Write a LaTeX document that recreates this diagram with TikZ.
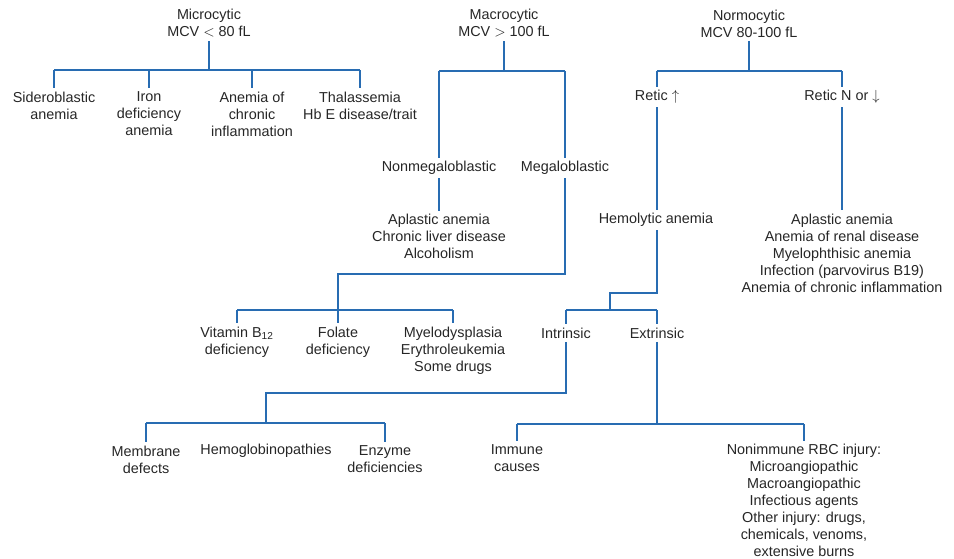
\documentclass[tikz,border=0pt]{standalone}
\usepackage{fontspec}
\setmainfont{Liberation Sans}
\usepackage{tikz}
\definecolor{linkblue}{RGB}{40,108,178}

\begin{document}
\begin{tikzpicture}[x=0.75pt, y=-0.75pt,
  txt/.style={align=center, inner sep=2.5pt, text=black!85,
    font=\fontsize{10.8}{12.75}\selectfont},
  link/.style={draw=linkblue, line width=1.3pt}]
\useasboundingbox (0,0) rectangle (954,558);

% Microcytic branch
\node[txt] (micro) at (209, 23.5) {Microcytic\\MCV $<$ 80 fL};
\node[txt] (sidero) at (54, 105.5) {Sideroblastic\\anemia};
\node[txt] (iron) at (149, 114) {Iron\\deficiency\\anemia};
\node[txt] (acd) at (252, 114) {Anemia of\\chronic\\inflammation};
\node[txt] (thal) at (360, 105.5) {Thalassemia\\Hb E disease/trait};

% Macrocytic branch
\node[txt] (macro) at (504, 23.5) {Macrocytic\\MCV $>$ 100 fL};
\node[txt] (nonmeg) at (439, 168) {Nonmegaloblastic};
\node[txt] (meg) at (565, 168) {Megaloblastic};
\node[txt] (aplas) at (439, 236.5) {Aplastic anemia\\Chronic liver disease\\Alcoholism};
\node[txt] (btwelve) at (237, 342) {Vitamin B\textsubscript{12}\\deficiency};
\node[txt] (folate) at (338, 342) {Folate\\deficiency};
\node[txt] (myelo) at (453, 350.5) {Myelodysplasia\\Erythroleukemia\\Some drugs};

% Normocytic branch
\node[txt] (normo) at (749, 23.5) {Normocytic\\MCV 80-100 fL};
\node[txt] (retup) at (657, 97) {Retic $\uparrow$};
\node[txt] (retdown) at (842, 97) {Retic N or $\downarrow$};
\node[txt] (hemo) at (656, 220) {Hemolytic anemia};
\node[txt] (hypo) at (842, 253) {Aplastic anemia\\Anemia of renal disease\\Myelophthisic anemia\\Infection (parvovirus B19)\\Anemia of chronic inflammation};
\node[txt] (intr) at (566, 333) {Intrinsic};
\node[txt] (extr) at (657, 333) {Extrinsic};
\node[txt] (memb) at (146, 459.5) {Membrane\\defects};
\node[txt] (hemog) at (266, 451) {Hemoglobinopathies};
\node[txt] (enzyme) at (385, 459.5) {Enzyme\\deficiencies};
\node[txt] (immune) at (517, 458.5) {Immune\\causes};
\node[txt] (nonimm) at (804, 500.5) {Nonimmune RBC injury:\\Microangiopathic\\Macroangiopathic\\Infectious agents\\Other injury: drugs,\\chemicals, venoms,\\extensive burns};

% Junctions
\coordinate (microbar) at (209, 70);
\coordinate (macrobar) at (504, 71);
\coordinate (megturn) at (338, 274);
\coordinate (megbar) at (338, 310);
\coordinate (normobar) at (749, 71);
\coordinate (hemoturn) at (610, 293);
\coordinate (hemobar) at (610, 310);
\coordinate (intrturn) at (266, 393);
\coordinate (intrbar) at (266, 423);
\coordinate (extrbar) at (657, 424);

% Connectors
\draw[link] (micro) -- (microbar);
\draw[link] (microbar -| sidero) -- (microbar -| thal);
\foreach \n in {sidero, iron, acd, thal}
  \draw[link] (microbar -| \n) -- (\n);

\draw[link] (macro) -- (macrobar);
\draw[link] (macrobar -| nonmeg) -- (macrobar -| meg);
\draw[link] (macrobar -| nonmeg) -- (nonmeg);
\draw[link] (macrobar -| meg) -- (meg);
\draw[link] (nonmeg) -- (aplas);
\draw[link] (meg) |- (megturn) -- (megbar);
\draw[link] (megbar -| btwelve) -- (megbar -| myelo);
\foreach \n in {btwelve, folate, myelo}
  \draw[link] (megbar -| \n) -- (\n);

\draw[link] (normo) -- (normobar);
\draw[link] (normobar -| retup) -- (normobar -| retdown);
\draw[link] (normobar -| retup) -- (retup);
\draw[link] (normobar -| retdown) -- (retdown);
\draw[link] (retup) -- (retup |- hemo.north);
\draw[link] (retdown) -- (hypo);
\draw[link] (hemo.south -| retup) |- (hemoturn) -- (hemobar);
\draw[link] (hemobar -| intr) -- (hemobar -| extr);
\draw[link] (hemobar -| intr) -- (intr);
\draw[link] (hemobar -| extr) -- (extr);

\draw[link] (intr) |- (intrturn) -- (intrbar);
\draw[link] (intrbar -| memb) -- (intrbar -| enzyme);
\draw[link] (intrbar -| memb) -- (memb);
\draw[link] (intrbar -| enzyme) -- (enzyme);

\draw[link] (extr) -- (extrbar);
\draw[link] (extrbar -| immune) -- (extrbar -| nonimm);
\draw[link] (extrbar -| immune) -- (immune);
\draw[link] (extrbar -| nonimm) -- (nonimm);

\end{tikzpicture}
\end{document}
